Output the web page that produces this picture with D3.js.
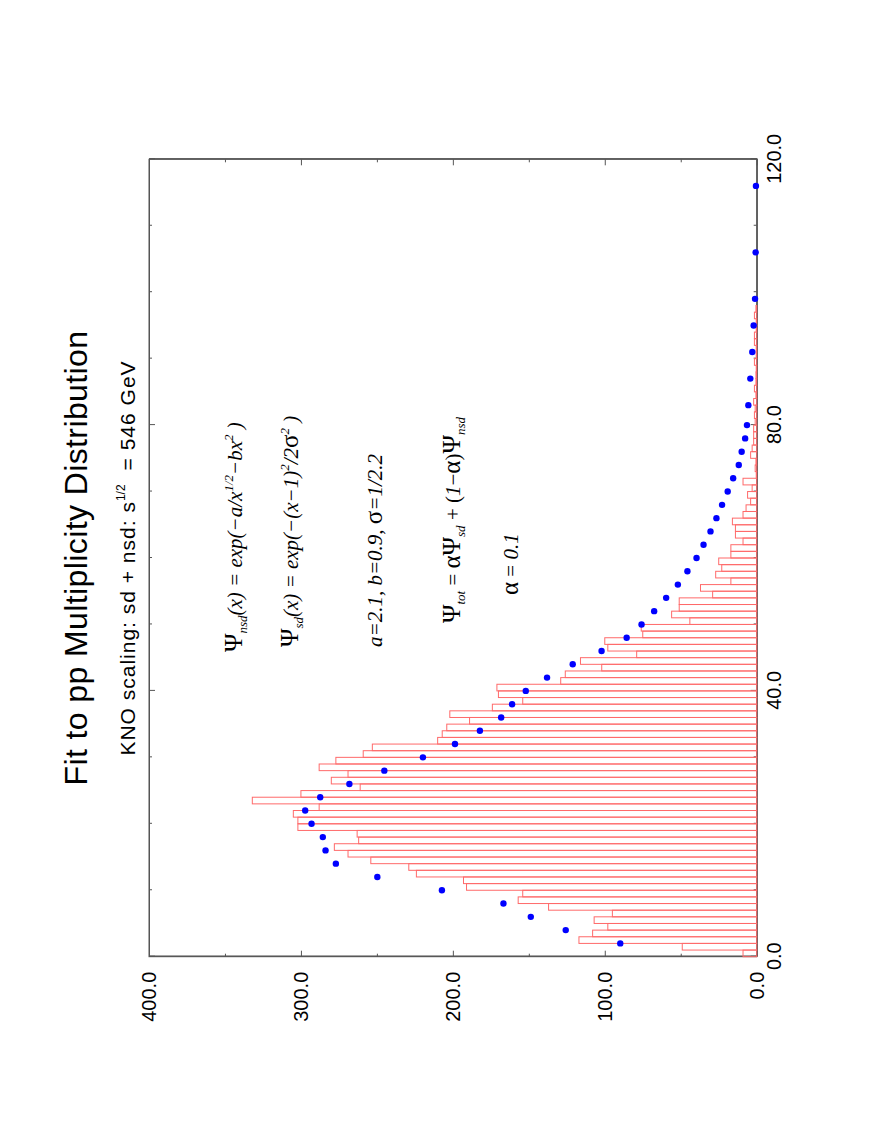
<!DOCTYPE html>
<html>
<head>
<meta charset="utf-8">
<script src="https://cdn.jsdelivr.net/npm/d3@7"></script>
<style>
  body { margin: 0; background: #fff; }
</style>
</head>
<body>
<div id="chart"></div>
<script>
// histogram: one value per unit bin, bins 0..118
const binValues = [
  9, 49, 117, 108, 98, 107, 95, 137, 157, 154,
  191, 193, 224, 229, 254, 269, 278, 262, 263, 302,
  302, 305, 288, 332, 300, 261, 280, 269, 288, 277,
  259, 253, 210, 207, 204, 189, 202, 174, 154, 170,
  171, 129, 126, 102, 116, 79, 98, 100, 75, 76,
  44, 56, 51, 51, 29, 37, 17, 27, 23, 25,
  17, 17, 9, 14, 14, 16, 9, 7, 4, 6,
  3, 9, 0.3, 1, 0.5, 4, 3, 2, 2, 2,
  1, 1.5, 1, 2, 0.5, 1.5, 0.5, 0.5, 0.3, 1.5,
  0.3, 0.3, 1.5, 1.5, 0.3, 0.3, 1.5, 0.5, 0, 0,
  0, 0, 0, 0, 0, 0, 0, 0, 0, 0,
  0, 0, 0, 0, 0, 0, 0, 0, 0
];

// fitted curve points
const fitX = [
  2, 4, 6, 8, 10, 12, 14, 16, 18, 20,
  22, 24, 26, 28, 30, 32, 34, 36, 38, 40,
  42, 44, 46, 48, 50, 52, 54, 56, 58, 60,
  62, 64, 66, 68, 70, 72, 74, 76, 78, 80,
  83, 87, 91, 95, 99, 106, 116
];
const fitY = [
  89.8, 125.7, 148.7, 166.7, 207.2, 249.7, 277.0, 283.8, 285.6, 293.0,
  297.2, 287.3, 268.1, 245.1, 219.7, 198.6, 182.2, 168.2, 161.0, 152.0,
  138.0, 121.1, 102.1, 85.6, 75.8, 67.5, 59.6, 51.9, 45.6, 39.6,
  35.0, 30.4, 26.5, 22.8, 19.1, 15.5, 11.8, 9.9, 7.6, 6.4,
  5.5, 4.2, 2.9, 2.0, 1.1, 0.7, 0.5
];

const xTicks = [0, 40, 80, 120];
const xMinorTicks = [10, 20, 30, 50, 60, 70, 90, 100, 110];
const yTicks = [0, 100, 200, 300, 400];
const yMinorTicks = [50, 150, 250, 350];

const titleText = 'Fit to pp Multiplicity Distribution';

// formula pieces: [text, italic?, position (-1 sub, 0 normal, 1 sup, 2 greek)]
const formulaNsd = [['Ψ', 0, 2], ['nsd', 1, -1], ['(x) = exp(−a/x', 1, 0], ['1/2', 1, 1], ['−bx', 1, 0], ['2', 1, 1], [' )', 1, 0]];
const formulaSd = [['Ψ', 0, 2], ['sd', 1, -1], ['(x) = exp(−(x−1)', 1, 0], ['2', 1, 1], ['/2', 1, 0], ['σ', 0, 2], ['2', 1, 1], [' )', 1, 0]];
const formulaPars = [['a=2.1, b=0.9, ', 1, 0], ['σ', 0, 2], ['=1/2.2', 1, 0]];
const formulaTot = [['Ψ', 0, 2], ['tot', 1, -1], [' = ', 0, 0], ['αΨ', 0, 2], ['sd', 1, -1], [' + (', 0, 0], ['1', 1, 0], ['−', 0, 0], ['α', 0, 2], [')', 0, 0], ['Ψ', 0, 2], ['nsd', 1, -1]];
const formulaAlpha = [['α', 0, 2], [' = ', 0, 0], ['0.1', 1, 0]];

const pageWidth = 886;
const pageHeight = 1146;
const plotW = 797.4;   // along the x data axis (drawn vertically)
const plotH = 607.7;   // along the y data axis (drawn horizontally)
const left = 149;
const bottom = 956.7;

const sans = '"Liberation Sans", Arial, Helvetica, sans-serif';
const serif = '"Liberation Serif", "Times New Roman", Times, serif';
const axisColor = '#555';
const barColor = '#ff6a6a';

let svg = d3.select('#chart').append('svg')
  .attr('width', pageWidth)
  .attr('height', pageHeight);

// whole plot is drawn landscape and turned a quarter to the left
let plot = svg.append('g')
  .attr('transform', `translate(${left},${bottom}) rotate(-90)`);

let x = d3.scaleLinear().domain([0, 120]).range([0, plotW]);
let y = d3.scaleLinear().domain([0, 400]).range([plotH, 0]);
const fmt = d3.format('.1f');

let styleAxis = g => {
  g.select('.domain').attr('stroke', axisColor);
  g.selectAll('.tick line').attr('stroke', axisColor);
  g.selectAll('.tick text')
    .attr('font-family', sans)
    .attr('font-size', 20)
    .attr('fill', '#000');
};

plot.append('rect')
  .attr('width', plotW)
  .attr('height', plotH)
  .attr('fill', 'none')
  .attr('stroke', axisColor);

// x axis (right side on screen) plus mirror
plot.append('g').attr('transform', `translate(0,${plotH})`)
  .call(d3.axisBottom(x).tickValues(xTicks).tickFormat(fmt).tickSize(-6).tickSizeOuter(0).tickPadding(10))
  .call(styleAxis);
plot.append('g').attr('transform', `translate(0,${plotH})`)
  .call(d3.axisBottom(x).tickValues(xMinorTicks).tickFormat('').tickSize(-3).tickSizeOuter(0))
  .call(styleAxis);
plot.append('g')
  .call(d3.axisTop(x).tickValues(xTicks).tickFormat('').tickSize(-6).tickSizeOuter(0))
  .call(styleAxis);
plot.append('g')
  .call(d3.axisTop(x).tickValues(xMinorTicks).tickFormat('').tickSize(-3).tickSizeOuter(0))
  .call(styleAxis);

// y axis (bottom on screen) plus mirror
plot.append('g')
  .call(d3.axisLeft(y).tickValues(yTicks).tickFormat(fmt).tickSize(-6).tickSizeOuter(0).tickPadding(15))
  .call(styleAxis);
plot.append('g')
  .call(d3.axisLeft(y).tickValues(yMinorTicks).tickFormat('').tickSize(-3).tickSizeOuter(0))
  .call(styleAxis);
plot.append('g').attr('transform', `translate(${plotW},0)`)
  .call(d3.axisRight(y).tickValues(yTicks).tickFormat('').tickSize(-6).tickSizeOuter(0))
  .call(styleAxis);
plot.append('g').attr('transform', `translate(${plotW},0)`)
  .call(d3.axisRight(y).tickValues(yMinorTicks).tickFormat('').tickSize(-3).tickSizeOuter(0))
  .call(styleAxis);

// histogram bins
plot.append('g').selectAll('rect').data(binValues)
  .enter().append('rect')
    .attr('x', (d, i) => x(i))
    .attr('y', d => y(d))
    .attr('width', x(1) - x(0))
    .attr('height', d => plotH - y(d))
    .attr('fill', 'none')
    .attr('stroke', barColor)
    .attr('stroke-width', 1);

// fit points
plot.append('g').selectAll('circle').data(fitX)
  .enter().append('circle')
    .attr('cx', d => x(d))
    .attr('cy', (d, i) => y(fitY[i]))
    .attr('r', 3.2)
    .attr('fill', '#0000ff');

// titles
plot.append('text')
  .attr('x', plotW / 2)
  .attr('y', -62.3)
  .attr('text-anchor', 'middle')
  .attr('font-family', sans)
  .attr('font-size', 32)
  .attr('letter-spacing', 0.4)
  .text(titleText);

let sub = plot.append('text')
  .attr('x', plotW / 2)
  .attr('y', -14)
  .attr('text-anchor', 'middle')
  .attr('font-family', sans)
  .attr('font-size', 21)
  .attr('letter-spacing', 1);
sub.append('tspan').text('KNO scaling: sd + nsd: s');
sub.append('tspan').attr('font-size', 12).attr('dy', -10).attr('letter-spacing', 0).text('1/2');
sub.append('tspan').attr('dy', 10).attr('dx', 14).text('= 546 GeV');

// formulas
let formula = (parts, px, py) => {
  let t = plot.append('text')
    .attr('x', px)
    .attr('y', py)
    .attr('font-family', serif)
    .attr('font-size', 21);
  let shift = 0;
  parts.forEach(([txt, italic, pos]) => {
    let target = pos === -1 ? 5 : pos === 1 ? -9 : 0;
    t.append('tspan')
      .attr('dy', target - shift)
      .attr('font-style', italic ? 'italic' : 'normal')
      .attr('font-size', pos === 2 ? 25 : pos === 0 ? 21 : 13)
      .text(txt);
    shift = target;
  });
};

formula(formulaNsd, 304.7, 92.5);
formula(formulaSd, 309.7, 149);
formula(formulaPars, 309.7, 232.5);
formula(formulaTot, 333.7, 311);
formula(formulaAlpha, 361.7, 369);
</script>
</body>
</html>
